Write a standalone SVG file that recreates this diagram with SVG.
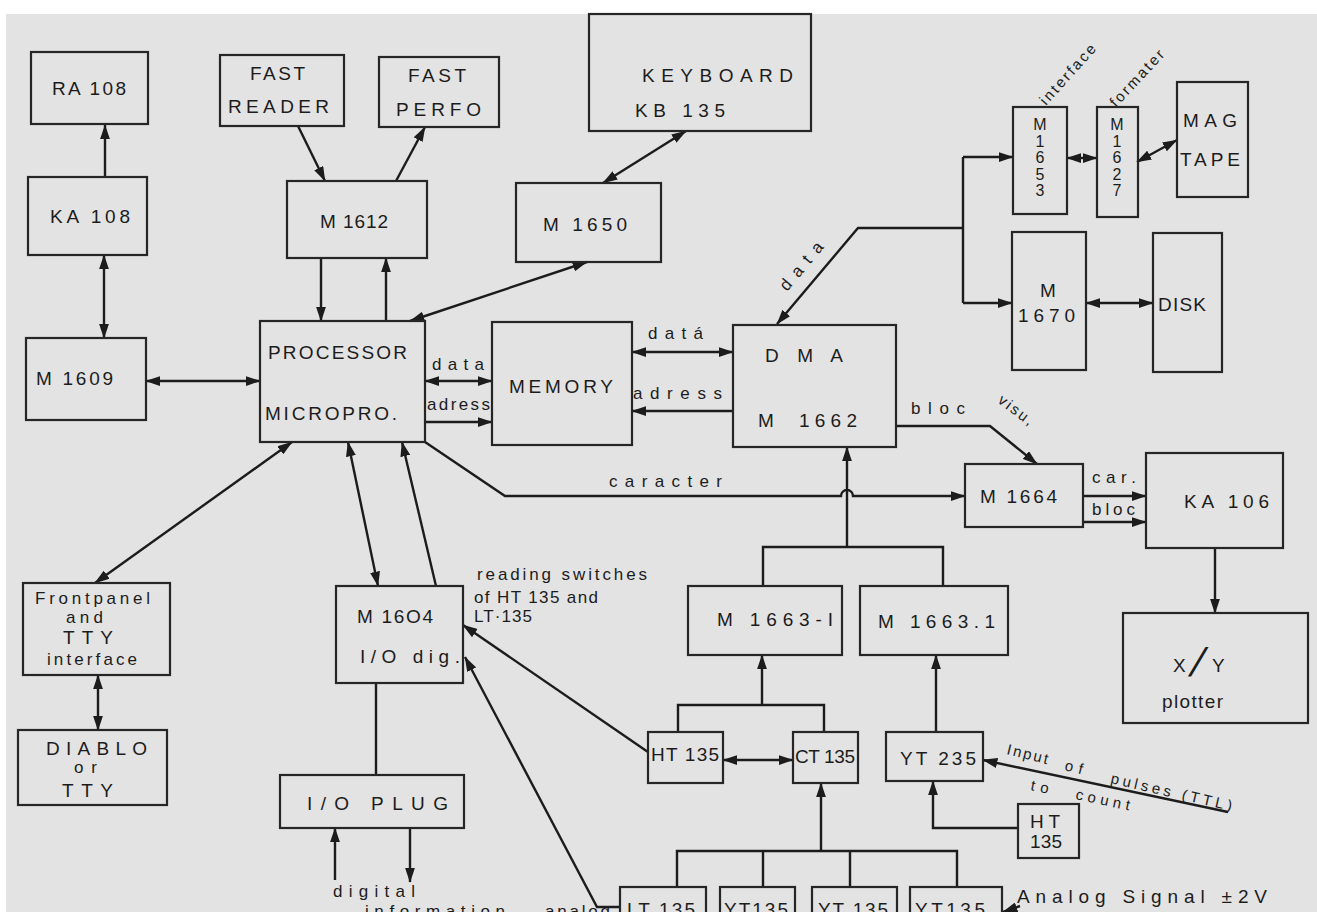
<svg xmlns="http://www.w3.org/2000/svg" width="1317" height="912" viewBox="0 0 1317 912">
<style>
.bx{fill:none;stroke:#262626;stroke-width:2.2}
.ln{fill:none;stroke:#1c1c1c;stroke-width:2.4}
.ar{marker-end:url(#ah)}
.bi{marker-end:url(#ah);marker-start:url(#ah)}
text{font-family:"Liberation Sans",Arial,sans-serif;fill:#1c1c1c;font-size:19px}
.s{font-size:17px}
.t{font-size:15px}
.d{font-size:16px}
.sl{font-size:40px}
</style>
<defs>
<marker id="ah" viewBox="0 0 12 8" refX="11.5" refY="4" markerUnits="userSpaceOnUse" markerWidth="15" markerHeight="10" orient="auto-start-reverse">
<path d="M0,0 L12,4 L0,8 z" fill="#1c1c1c"/>
</marker>
</defs>
<rect x="0" y="0" width="1317" height="912" fill="#ffffff"/>
<rect x="6" y="14" width="1311" height="898" fill="#e3e3e3"/>

<g id="connectors">
<path class="ln ar" d="M105,177 L105,125"/>
<path class="ln bi" d="M104,255 L104,338"/>
<path class="ln bi" d="M146,381 L260,381"/>
<path class="ln ar" d="M298,126 L325,181"/>
<path class="ln ar" d="M396,181 L425,127"/>
<path class="ln ar" d="M321,258 L321,321"/>
<path class="ln ar" d="M386,321 L386,258"/>
<path class="ln bi" d="M410,321 L587,262"/>
<path class="ln bi" d="M603,183 L686,131"/>
<path class="ln bi" d="M425,381 L492,381"/>
<path class="ln ar" d="M425,422 L492,422"/>
<path class="ln bi" d="M632,352 L733,352"/>
<path class="ln ar" d="M733,411 L632,411"/>
<path class="ln ar" d="M963,228 L858,228 L777,324"/>
<path class="ln" d="M963,157 L963,303"/>
<path class="ln ar" d="M963,157 L1013,157"/>
<path class="ln ar" d="M963,303 L1012,303"/>
<path class="ln bi" d="M1067,158 L1097,158"/>
<path class="ln bi" d="M1137,162 L1177,140"/>
<path class="ln bi" d="M1086,303 L1153,303"/>
<path class="ln ar" d="M425,442 L505,496 L841,496 A6,6 0 0 1 853,496 L965,496"/>
<path class="ln" d="M763,586 L763,547 L943,547 L943,586"/>
<path class="ln ar" d="M847,547 L847,447"/>
<path class="ln ar" d="M896,426 L990,426 L1037,464"/>
<path class="ln ar" d="M1083,496 L1146,496"/>
<path class="ln ar" d="M1083,522 L1146,522"/>
<path class="ln ar" d="M1215,548 L1215,613"/>
<path class="ln" d="M678,732 L678,705 L824,705 L824,732"/>
<path class="ln ar" d="M762,705 L762,655"/>
<path class="ln bi" d="M723,760 L793,760"/>
<path class="ln ar" d="M648,752 L463,625"/>
<path class="ln ar" d="M620,907 L597,907 L465,657"/>
<path class="ln ar" d="M936,732 L936,655"/>
<path class="ln ar" d="M1018,828 L933,828 L933,781"/>
<path class="ln ar" d="M1228,812 L983,760"/>
<path class="ln" d="M677,887 L677,851 L957,851 L957,887 M763,851 L763,887 M850,851 L850,887"/>
<path class="ln ar" d="M821,851 L821,783"/>
<path class="ln ar" d="M1020,906 L1003,912"/>
<path class="ln bi" d="M348,442 L378,586"/>
<path class="ln ar" d="M436,586 L402,442"/>
<path class="ln bi" d="M292,442 L95,583"/>
<path class="ln bi" d="M98,675 L98,730"/>
<path class="ln" d="M376,683 L376,775"/>
<path class="ln ar" d="M335,880 L335,828"/>
<path class="ln ar" d="M410,828 L410,882"/>

<text class="s" x="432" y="370" textLength="52" lengthAdjust="spacing">data</text>
<text class="s" x="427" y="410" textLength="63" lengthAdjust="spacing">adress</text>
<text class="s" x="648" y="339" textLength="55" lengthAdjust="spacing">datá</text>
<text class="s" x="633" y="399" textLength="89" lengthAdjust="spacing">adress</text>
<text class="s" transform="translate(787,292) rotate(-50)" textLength="58" lengthAdjust="spacing">data</text>
<text class="s" x="609" y="487" textLength="113" lengthAdjust="spacing">caracter</text>
<text class="s" x="911" y="414" textLength="54" lengthAdjust="spacing">bloc</text>
<text class="t" transform="translate(997,402) rotate(37)" textLength="40" lengthAdjust="spacing">visu,</text>
<text class="s" x="1092" y="483" textLength="44" lengthAdjust="spacing">car.</text>
<text class="s" x="1092" y="515" textLength="43" lengthAdjust="spacing">bloc</text>
<text class="t" transform="translate(1046,106) rotate(-48)" textLength="76" lengthAdjust="spacing">interface</text>
<text class="t" transform="translate(1116,108) rotate(-47)" textLength="72" lengthAdjust="spacing">formater</text>
<text class="s" x="477" y="580" textLength="170" lengthAdjust="spacing">reading   switches</text>
<text class="s" x="474" y="603" textLength="124" lengthAdjust="spacing">of HT 135 and</text>
<text class="s" x="474" y="622" textLength="58" lengthAdjust="spacing">LT·135</text>
<text class="t" transform="translate(1006,754) rotate(14)" textLength="42" lengthAdjust="spacing">Input</text>
<text class="t" transform="translate(1064,770) rotate(14)" textLength="18" lengthAdjust="spacing">of</text>
<text class="t" transform="translate(1110,783) rotate(13)" textLength="124" lengthAdjust="spacing">pulses (TTL)</text>
<text class="t" transform="translate(1030,790) rotate(12)" textLength="18" lengthAdjust="spacing">to</text>
<text class="t" transform="translate(1075,799) rotate(12)" textLength="55" lengthAdjust="spacing">count</text>
<text x="1017" y="903" textLength="250" lengthAdjust="spacing">Analog  Signal ±2V</text>
<text class="s" x="333" y="897" textLength="82" lengthAdjust="spacing">digital</text>
<text class="s" x="365" y="917" textLength="140" lengthAdjust="spacing">information</text>
<text class="s" x="545" y="917" textLength="65" lengthAdjust="spacing">analog</text>
</g>

<g id="RA108"><rect class="bx" x="31" y="52" width="117" height="72"/><text x="52" y="95" textLength="74" lengthAdjust="spacing">RA 108</text></g>
<g id="KA108"><rect class="bx" x="28" y="177" width="119" height="78"/><text x="50" y="223" textLength="80" lengthAdjust="spacing">KA 108</text></g>
<g id="M1609"><rect class="bx" x="26" y="338" width="120" height="82"/><text x="36" y="385" textLength="77" lengthAdjust="spacing">M   1609</text></g>
<g id="FastReader"><rect class="bx" x="220" y="55" width="124" height="71"/><text x="250" y="80" textLength="55" lengthAdjust="spacing">FAST</text><text x="228" y="113" textLength="101" lengthAdjust="spacing">READER</text></g>
<g id="FastPerfo"><rect class="bx" x="379" y="57" width="120" height="70"/><text x="408" y="82" textLength="58" lengthAdjust="spacing">FAST</text><text x="396" y="116" textLength="85" lengthAdjust="spacing">PERFO</text></g>
<g id="M1612"><rect class="bx" x="287" y="181" width="140" height="77"/><text x="320" y="228" textLength="68" lengthAdjust="spacing">M  1612</text></g>
<g id="Keyboard"><rect class="bx" x="589" y="14" width="222" height="117"/><text x="642" y="82" textLength="151" lengthAdjust="spacing">KEYBOARD</text><text x="635" y="117" textLength="90" lengthAdjust="spacing">KB 135</text></g>
<g id="M1650"><rect class="bx" x="516" y="183" width="145" height="79"/><text x="543" y="231" textLength="84" lengthAdjust="spacing">M  1650</text></g>
<g id="M1653"><rect class="bx" x="1013" y="107" width="54" height="107"/>
<text class="d" x="1040" y="130" text-anchor="middle">M</text><text class="d" x="1040" y="146.5" text-anchor="middle">1</text><text class="d" x="1040" y="163" text-anchor="middle">6</text><text class="d" x="1040" y="179.5" text-anchor="middle">5</text><text class="d" x="1040" y="196" text-anchor="middle">3</text></g>
<g id="M1627"><rect class="bx" x="1097" y="107" width="41" height="110"/>
<text class="d" x="1117" y="130" text-anchor="middle">M</text><text class="d" x="1117" y="146.5" text-anchor="middle">1</text><text class="d" x="1117" y="163" text-anchor="middle">6</text><text class="d" x="1117" y="179.5" text-anchor="middle">2</text><text class="d" x="1117" y="196" text-anchor="middle">7</text></g>
<g id="MagTape"><rect class="bx" x="1177" y="82" width="71" height="115"/><text x="1183" y="127" textLength="54" lengthAdjust="spacing">MAG</text><text x="1180" y="166" textLength="60" lengthAdjust="spacing">TAPE</text></g>
<g id="M1670"><rect class="bx" x="1012" y="232" width="74" height="138"/><text x="1048" y="297" text-anchor="middle">M</text><text x="1018" y="322" textLength="57" lengthAdjust="spacing">1670</text></g>
<g id="Disk"><rect class="bx" x="1153" y="233" width="69" height="139"/><text x="1158" y="311" textLength="48" lengthAdjust="spacing">DISK</text></g>
<g id="Processor"><rect class="bx" x="260" y="321" width="165" height="121"/><text x="268" y="359" textLength="139" lengthAdjust="spacing">PROCESSOR</text><text x="265" y="420" textLength="132" lengthAdjust="spacing">MICROPRO.</text></g>
<g id="Memory"><rect class="bx" x="492" y="322" width="140" height="123"/><text x="509" y="393" textLength="104" lengthAdjust="spacing">MEMORY</text></g>
<g id="DMA"><rect class="bx" x="733" y="325" width="163" height="122"/><text x="765" y="362" textLength="78" lengthAdjust="spacing">D M A</text><text x="758" y="427">M</text><text x="799" y="427" textLength="58" lengthAdjust="spacing">1662</text></g>
<g id="M1664"><rect class="bx" x="965" y="464" width="118" height="63"/><text x="980" y="503" textLength="77" lengthAdjust="spacing">M 1664</text></g>
<g id="KA106"><rect class="bx" x="1146" y="453" width="137" height="95"/><text x="1184" y="508" textLength="85" lengthAdjust="spacing">KA 106</text></g>
<g id="Plotter"><rect class="bx" x="1123" y="613" width="185" height="110"/><text x="1173" y="672">X</text><text class="sl" transform="translate(1188,676) skewX(-18)">/</text><text x="1212" y="672">Y</text><text x="1162" y="708" textLength="61" lengthAdjust="spacing">plotter</text></g>
<g id="Frontpanel"><rect class="bx" x="23" y="583" width="147" height="92"/><text class="s" x="35" y="604" textLength="115" lengthAdjust="spacing">Frontpanel</text><text class="s" x="66" y="623" textLength="37" lengthAdjust="spacing">and</text><text x="63" y="644" textLength="50" lengthAdjust="spacing">TTY</text><text class="s" x="47" y="665" textLength="90" lengthAdjust="spacing">interface</text></g>
<g id="Diablo"><rect class="bx" x="18" y="730" width="149" height="75"/><text x="46" y="755" textLength="101" lengthAdjust="spacing">DIABLO</text><text class="s" x="74" y="773" textLength="23" lengthAdjust="spacing">or</text><text x="62" y="797" textLength="51" lengthAdjust="spacing">TTY</text></g>
<g id="M1604"><rect class="bx" x="336" y="586" width="127" height="97"/><text x="357" y="623" textLength="76" lengthAdjust="spacing">M 16O4</text><text x="360" y="663" textLength="100" lengthAdjust="spacing">I/O  dig.</text></g>
<g id="IOPlug"><rect class="bx" x="280" y="775" width="184" height="53"/><text x="307" y="810" textLength="141" lengthAdjust="spacing">I/O   PLUG</text></g>
<g id="M1663I"><rect class="bx" x="688" y="586" width="154" height="69"/><text x="717" y="626" textLength="116" lengthAdjust="spacing">M 1663-I</text></g>
<g id="M1663_1"><rect class="bx" x="860" y="586" width="148" height="69"/><text x="878" y="628" textLength="117" lengthAdjust="spacing">M 1663.1</text></g>
<g id="HT135"><rect class="bx" x="648" y="732" width="75" height="51"/><text x="651" y="761" textLength="68" lengthAdjust="spacing">HT 135</text></g>
<g id="CT135"><rect class="bx" x="793" y="732" width="65" height="51"/><text x="795" y="763" textLength="60" lengthAdjust="spacing">CT 135</text></g>
<g id="YT235"><rect class="bx" x="886" y="732" width="97" height="49"/><text x="900" y="765" textLength="76" lengthAdjust="spacing">YT 235</text></g>
<g id="HT135b"><rect class="bx" x="1018" y="804" width="61" height="54"/><text x="1030" y="828" textLength="30" lengthAdjust="spacing">HT</text><text x="1030" y="848" textLength="32" lengthAdjust="spacing">135</text></g>
<g id="LT135"><rect class="bx" x="620" y="887" width="86" height="40"/><text x="627" y="916" textLength="68" lengthAdjust="spacing">LT 135</text></g>
<g id="YT135a"><rect class="bx" x="720" y="887" width="75" height="40"/><text x="724" y="916" textLength="64" lengthAdjust="spacing">YT135</text></g>
<g id="YT135b"><rect class="bx" x="812" y="887" width="85" height="40"/><text x="818" y="916" textLength="70" lengthAdjust="spacing">YT 135</text></g>
<g id="YT135c"><rect class="bx" x="910" y="887" width="92" height="40"/><text x="915" y="916" textLength="70" lengthAdjust="spacing">YT135</text></g>
</svg>
